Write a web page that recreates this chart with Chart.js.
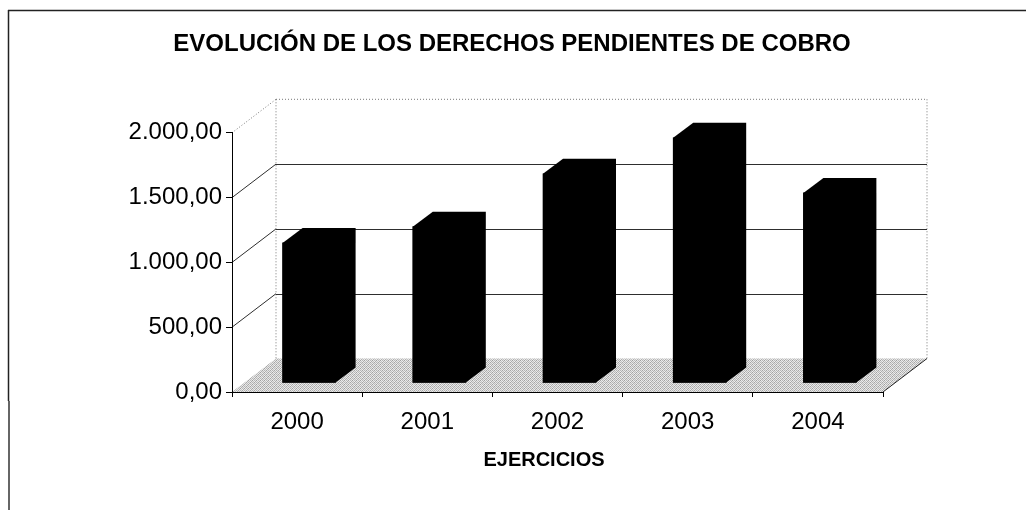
<!DOCTYPE html>
<html lang="es">
<head>
  <meta charset="UTF-8">
  <title>Derechos pendientes de cobro</title>
  <script src="https://cdn.jsdelivr.net/npm/chart.js"></script>
  <style>
    html, body { margin: 0; padding: 0; background: #fff; }
    canvas { display: block; }
  </style>
</head>
<body>
  <canvas id="chart" width="1026" height="510"></canvas>

  <script>
    const years = ['2000', '2001', '2002', '2003', '2004'];
    const pendingRights = [1081, 1206, 1614, 1892, 1467];
    const yTickLabels = ['0,00', '500,00', '1.000,00', '1.500,00', '2.000,00'];
    const titleText = 'EVOLUCIÓN DE LOS DERECHOS PENDIENTES DE COBRO';
    const xTitleText = 'EJERCICIOS';

    const font = 'Liberation Sans, Arial, sans-serif';

    // depth of the fake 3D box and of the bars inside it
    const wallDx = 44, wallDy = 33.5;
    const barDx = 20, barDy = 15;
    const barShiftX = 12, barShiftY = 9;

    function floorPattern(ctx) {
      const tile = document.createElement('canvas');
      tile.width = 4;
      tile.height = 4;
      const t = tile.getContext('2d');
      const shades = ['#a0a0a0', '#ececec', '#b8b8b8', '#e4e4e4',
                      '#e6e6e6', '#c2c2c2', '#f0f0f0', '#acacac',
                      '#b4b4b4', '#e2e2e2', '#a6a6a6', '#e8e8e8',
                      '#eeeeee', '#b0b0b0', '#e0e0e0', '#bebebe'];
      shades.forEach((c, i) => {
        t.fillStyle = c;
        t.fillRect(i % 4, Math.floor(i / 4), 1, 1);
      });
      return ctx.createPattern(tile, 'repeat');
    }

    function line(ctx, x1, y1, x2, y2) {
      ctx.beginPath();
      ctx.moveTo(x1, y1);
      ctx.lineTo(x2, y2);
      ctx.stroke();
    }

    const box3d = {
      id: 'box3d',
      beforeDraw(chart) {
        const { ctx, scales: { y }, chartArea: a } = chart;
        const backLeft = a.left + wallDx, backRight = a.right + wallDx;
        const floorBack = a.bottom - wallDy;

        ctx.save();
        ctx.fillStyle = floorPattern(ctx);
        ctx.beginPath();
        ctx.moveTo(a.left, a.bottom);
        ctx.lineTo(backLeft, floorBack);
        ctx.lineTo(backRight, floorBack);
        ctx.lineTo(a.right, a.bottom);
        ctx.closePath();
        ctx.fill();

        // dotted outline of the back wall
        ctx.strokeStyle = '#777';
        ctx.lineWidth = 1;
        ctx.setLineDash([1, 2]);
        const top = y.getPixelForValue(2000);
        line(ctx, a.left, top, backLeft, top - wallDy);
        line(ctx, backLeft, top - wallDy, backRight, top - wallDy);
        line(ctx, backLeft, top - wallDy, backLeft, floorBack);
        line(ctx, backRight, top - wallDy, backRight, floorBack);
        ctx.setLineDash([]);

        // gridlines run along the left wall, then along the back wall
        ctx.strokeStyle = '#2e2e2e';
        y.ticks.forEach(t => {
          if (t.value === 0 || t.value === 2000) return;
          const py = y.getPixelForValue(t.value);
          line(ctx, a.left, py, backLeft, py - wallDy);
          line(ctx, backLeft, Math.round(py - wallDy) + 0.5, backRight, Math.round(py - wallDy) + 0.5);
        });
        ctx.strokeStyle = '#222';
        line(ctx, a.right, a.bottom, backRight, floorBack);
        ctx.restore();
      },
      beforeDatasetDraw(chart, args) {
        const { ctx } = chart;
        ctx.save();
        ctx.fillStyle = '#000';
        // whole silhouette, so no seam shows between the faces
        args.meta.data.forEach(bar => {
          const left = bar.x - bar.width / 2 + barShiftX;
          const right = left + bar.width;
          const top = bar.y - barShiftY;
          const bottom = bar.base - barShiftY;
          ctx.beginPath();
          ctx.moveTo(left, top);
          ctx.lineTo(left + barDx, top - barDy);
          ctx.lineTo(right + barDx, top - barDy);
          ctx.lineTo(right + barDx, bottom - barDy);
          ctx.lineTo(right, bottom);
          ctx.lineTo(left, bottom);
          ctx.closePath();
          ctx.fill();
        });
        ctx.restore();
        ctx.save();
        ctx.translate(barShiftX, -barShiftY);
      },
      afterDatasetDraw(chart) {
        chart.ctx.restore();
      },
      afterDraw(chart) {
        const { ctx } = chart;
        ctx.save();
        ctx.fillStyle = '#000';
        ctx.font = 'bold 20px ' + font;
        ctx.textAlign = 'center';
        ctx.textBaseline = 'middle';
        ctx.fillText(xTitleText, 544, 460);

        // page frame: only top and left survive in the scan
        ctx.strokeStyle = '#222';
        ctx.lineWidth = 1.5;
        line(ctx, 8, 10.5, 1026, 10.5);
        line(ctx, 8.5, 10, 8.5, 401);
        ctx.strokeStyle = '#666';
        ctx.lineWidth = 2;
        line(ctx, 9, 401, 9, 510);
        ctx.restore();
      },
      afterLayout(chart) {
        // centre the title on the page, not on the padded layout
        chart.titleBlock.left = 0;
        chart.titleBlock.right = 1024;
      }
    };

    new Chart(document.getElementById('chart'), {
      type: 'bar',
      data: {
        labels: years,
        datasets: [{
          data: pendingRights,
          backgroundColor: '#000',
          barThickness: 53,
          clip: false
        }]
      },
      plugins: [box3d],
      options: {
        responsive: false,
        animation: false,
        layout: { padding: { left: 0, right: 143, top: 0, bottom: 0 } },
        plugins: {
          legend: { display: false },
          tooltip: { enabled: false },
          title: {
            display: true,
            text: titleText,
            color: '#000',
            font: { family: font, size: 24, weight: 'bold', lineHeight: 1.2 },
            padding: { top: 30, bottom: 74 }
          }
        },
        scales: {
          x: {
            afterFit: s => { s.height = 118; },
            grid: { drawOnChartArea: false, drawTicks: true, tickLength: 5, color: '#000' },
            border: { color: '#000', width: 1 },
            ticks: { color: '#000', padding: 11, maxRotation: 0, font: { family: font, size: 24 } }
          },
          y: {
            min: 0,
            max: 2000,
            afterFit: s => { s.width = 232; },
            grid: { drawOnChartArea: false, drawTicks: true, tickLength: 6, color: '#000' },
            border: { color: '#000', width: 1 },
            ticks: {
              stepSize: 500,
              color: '#000',
              padding: 4,
              font: { family: font, size: 24 },
              callback: (v, i) => yTickLabels[i]
            }
          }
        }
      }
    });
  </script>
</body>
</html>
